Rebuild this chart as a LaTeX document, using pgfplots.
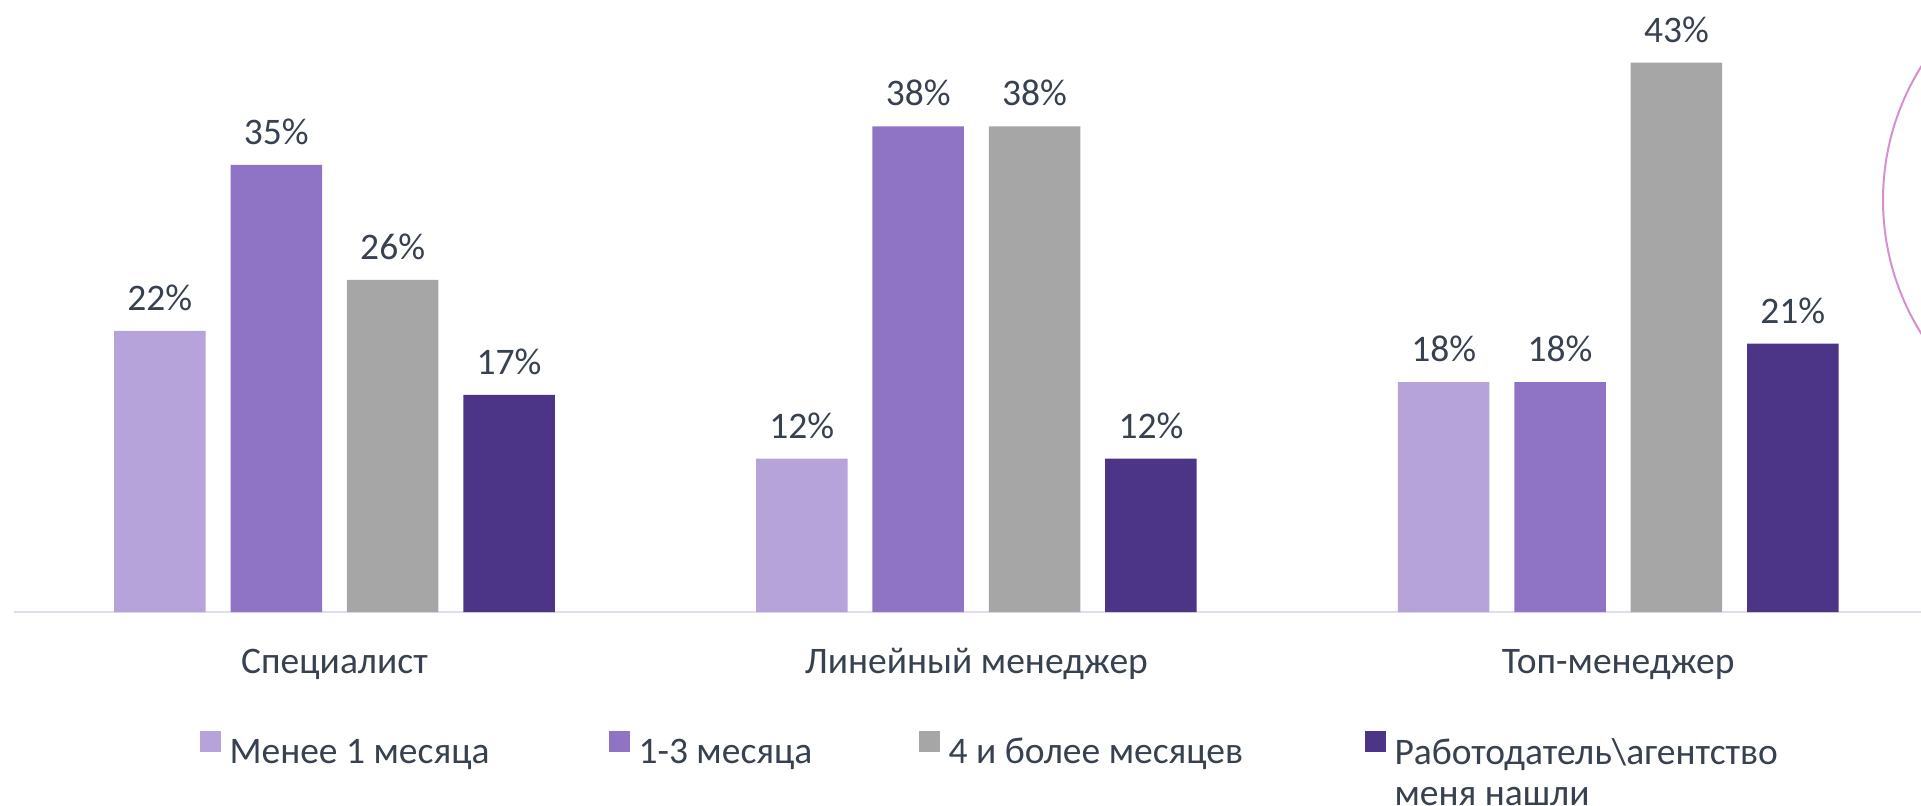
\documentclass[border=0pt]{standalone}
\usepackage{fontspec}
\setmainfont{Carlito}
\usepackage{pgfplots}
\pgfplotsset{compat=1.18}
\definecolor{cA}{HTML}{B5A3DA}
\definecolor{cB}{HTML}{8F74C5}
\definecolor{cC}{HTML}{A6A6A6}
\definecolor{cD}{HTML}{4C3586}
\definecolor{txt}{HTML}{37414F}
\definecolor{axl}{HTML}{E0DAF2}
\definecolor{circ}{HTML}{D591CF}
\pgfplotsset{sq/.style={legend image code/.code={\fill[##1] (0pt,0.5pt) rectangle (10.5pt,11pt);}}}
\begin{document}
\begin{tikzpicture}
\path[use as bounding box, clip] (0,0) rectangle (960.5pt,402.5pt);
\draw[circ, line width=1pt] (1067.5pt,302.5pt) circle (126pt);
\begin{axis}[
  at={(6.75pt,96.5pt)}, anchor=south west,
  scale only axis, width=962.85pt, height=306pt,
  xmin=-0.5, xmax=2.5, ymin=0, ymax=47.9,
  axis y line=none, axis x line*=bottom,
  x axis line style={axl, line width=1pt, -},
  xtick={0,1,2}, xticklabels={Специалист, Линейный менеджер, Топ-менеджер},
  major tick length=0pt,
  xticklabel style={anchor=base, yshift=-30.5pt, font=\fontsize{18.75}{22}\selectfont, text=txt},
  ybar=12.45pt, bar width=45.75pt,
  /pgf/number format/assume math mode=true,
  nodes near coords={\pgfmathprintnumber{\pgfplotspointmeta}\%},
  every node near coord/.append style={anchor=base, yshift=10.3pt, font=\fontsize{18.75}{22}\selectfont, text=txt},
  legend columns=4,
  legend cell align=left,
  legend style={at={(0.0968,-0.1937)}, anchor=north west, draw=none, fill=none,
    inner sep=0pt, outer sep=0pt,
    font=\fontsize{18.75}{20.8}\selectfont, text=txt, column sep=0pt,
    nodes={inner sep=0pt}},
]
\addplot[fill=cA, draw=none, sq] coordinates {(0,22) (1,12) (2,18)};
\addlegendentry{\makebox[194pt][l]{\hspace{4.3pt}Менее 1 месяца}}
\addplot[fill=cB, draw=none, sq] coordinates {(0,35) (1,38) (2,18)};
\addlegendentry{\makebox[144.5pt][l]{\hspace{4.3pt}1-3 месяца}}
\addplot[fill=cC, draw=none, sq] coordinates {(0,26) (1,38) (2,43)};
\addlegendentry{\makebox[212.5pt][l]{\hspace{4.3pt}4 и более месяцев}}
\addplot[fill=cD, draw=none, sq] coordinates {(0,17) (1,12) (2,21)};
\addlegendentry{\hspace{4.3pt}\vtop{\baselineskip=20.8pt\lineskiplimit=-100pt\hbox{Работодатель\textbackslash агентство}\hbox{меня нашли}}}
\end{axis}
\end{tikzpicture}
\end{document}
